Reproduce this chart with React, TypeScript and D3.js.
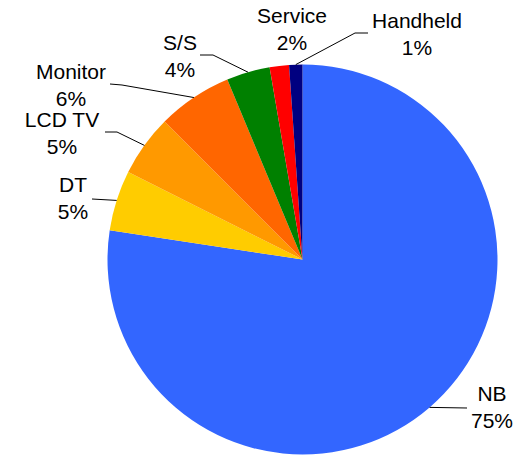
import React from "react";
import * as d3 from "d3";

const categories = ["NB", "DT", "LCD TV", "Monitor", "S/S", "Service", "Handheld"];
const values = [77.4, 5.0, 5.1, 6.2, 3.6, 1.6, 1.1];
const percentLabels = ["75%", "5%", "5%", "6%", "4%", "2%", "1%"];
const colors = ["#3366FF", "#FFCC00", "#FF9900", "#FF6600", "#008000", "#FF0000", "#000080"];

// label layout: text centre x, first baseline y, leader line points (after arc point)
const labelLayout = [
  { x: 492, y: 401, line: [[467, 408]] },
  { x: 73, y: 192, line: [[92, 199]] },
  { x: 62, y: 127, line: [[117, 132], [105, 132]] },
  { x: 71, y: 79, line: [[122, 85], [110, 84]] },
  { x: 180, y: 50, line: [[213, 55], [200, 55]] },
  { x: 292, y: 23, line: null },
  { x: 417, y: 28, line: [[355, 33], [368, 33]] },
];

const W = 529;
const H = 455;
const cx = 302.5;
const cy = 259.5;
const R = 195;

export default function App() {
  const data = categories.map((c, i) => ({ c, v: values[i], i }));
  const pie = d3.pie<any>().value((d) => d.v).sort(null).startAngle(0).endAngle(2 * Math.PI);
  const arcs = pie(data);
  const arc = d3.arc<any>().innerRadius(0).outerRadius(R);
  const edge = d3.arc<any>().innerRadius(R).outerRadius(R);
  return (
    <svg
      width={W}
      height={H}
      style={{ position: "absolute", left: 0, top: 0, background: "#fff" }}
      fontFamily="'Liberation Sans', Arial, sans-serif"
    >
      <g transform={`translate(${cx},${cy})`}>
        {arcs.map((a, i) => (
          <path key={i} d={arc(a) as string} fill={colors[i]} />
        ))}
      </g>
      {arcs.map((a, i) => {
        const L = labelLayout[i];
        const [px, py] = edge.centroid(a);
        const pts = L.line ? [[cx + px, cy + py], ...L.line] : null;
        return (
          <g key={i}>
            {pts && (
              <path
                d={d3.line()(pts as [number, number][]) as string}
                fill="none"
                stroke="#000"
                strokeWidth={1}
              />
            )}
            <text x={L.x} y={L.y} textAnchor="middle" fontSize={21} fill="#000">
              {categories[i]}
            </text>
            <text x={L.x} y={L.y + 27} textAnchor="middle" fontSize={21} fill="#000">
              {percentLabels[i]}
            </text>
          </g>
        );
      })}
    </svg>
  );
}
